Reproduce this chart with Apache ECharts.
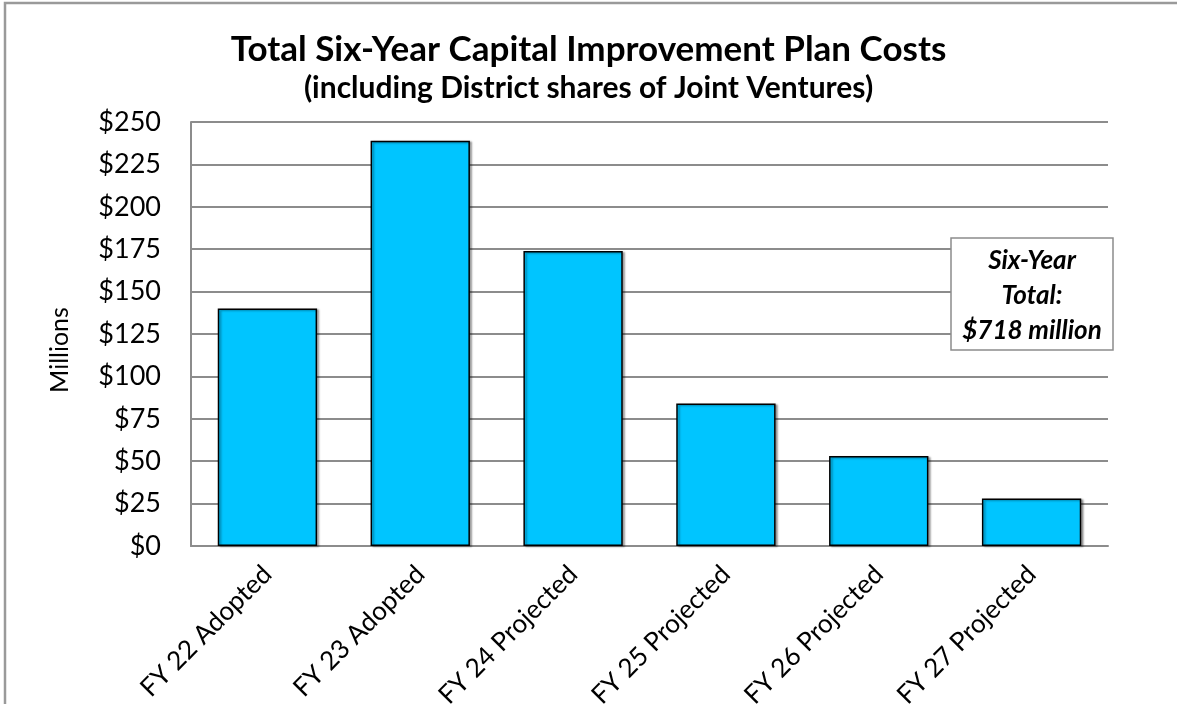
<!DOCTYPE html>
<html>
<head>
<meta charset="utf-8">
<script src="https://cdn.jsdelivr.net/npm/echarts@6/dist/echarts.min.js"></script>
<style>html,body{margin:0;padding:0;background:#fff;}#c{width:1177px;height:704px;}</style>
</head>
<body>
<div id="c"></div>
<script>
const categories = ['FY 22 Adopted', 'FY 23 Adopted', 'FY 24 Projected', 'FY 25 Projected', 'FY 26 Projected', 'FY 27 Projected'];
const costs = [140, 239, 174, 84, 53, 28];
const yTicks = [0, 25, 50, 75, 100, 125, 150, 175, 200, 225, 250];
const titleText = 'Total Six-Year Capital Improvement Plan Costs';
const subtitleText = '(including District shares of Joint Ventures)';
const yName = 'Millions';
const noteLines = ['Six-Year', 'Total:', '$718 million'];

const FONT = 'Lato';
const chart = echarts.init(document.getElementById('c'), null, {renderer: 'canvas'});
chart.setOption({
  backgroundColor: '#fff',
  animation: false,
  title: {
    text: titleText,
    subtext: subtitleText,
    left: 'center',
    top: 27,
    itemGap: 6,
    textStyle: {fontFamily: FONT, fontWeight: 'bold', fontSize: 35, color: '#000'},
    subtextStyle: {fontFamily: FONT, fontWeight: 'bold', fontSize: 30, color: '#000'}
  },
  grid: {left: 191, right: 69, top: 122, bottom: 158, containLabel: false, outerBoundsMode: 'none'},
  xAxis: {
    type: 'category',
    data: categories,
    axisLine: {lineStyle: {color: '#8c8c8c', width: 2}},
    axisTick: {show: false},
    axisLabel: {rotate: 45, fontFamily: FONT, fontSize: 26, color: '#000', margin: 24, interval: 0}
  },
  yAxis: {
    type: 'value',
    min: 0, max: 250, interval: 25,
    axisLine: {show: true, lineStyle: {color: '#8c8c8c', width: 2}},
    axisTick: {show: false},
    splitLine: {lineStyle: {color: '#8c8c8c', width: 2}},
    axisLabel: {
      fontFamily: FONT, fontSize: 27, color: '#000', margin: 30,
      formatter: v => yTicks.includes(v) ? '$' + v : ''
    }
  },
  series: [{
    type: 'bar',
    data: costs,
    barCategoryGap: '35%',
    itemStyle: {color: '#00C5FF', borderColor: '#000', borderWidth: 1.5,
      shadowColor: 'rgba(0,0,0,0.35)', shadowOffsetX: 2, shadowOffsetY: 1, shadowBlur: 2}
  }],
  graphic: [
    {type: 'polyline', x: 0, y: 0, shape: {points: [[5, 720], [5, 3], [1200, 3]]}, style: {fill: 'none', stroke: '#9a9a9a', lineWidth: 2.5}, z: 100, silent: true},
    {type: 'text', x: 60, y: 350, rotation: Math.PI / 2, z: 51,
      style: {text: yName, fill: '#000', font: '25px ' + FONT, align: 'center', verticalAlign: 'middle'}},
    {type: 'rect', x: 951, y: 238, shape: {width: 162, height: 112}, style: {fill: '#fff', stroke: '#8c8c8c', lineWidth: 1.5}, z: 50},
    {type: 'text', x: 1032, y: 296, z: 51,
      style: {text: noteLines.join('\n'), fill: '#000', font: 'italic bold 26px ' + FONT, align: 'center', verticalAlign: 'middle', lineHeight: 35}}
  ]
});
</script>
</body>
</html>
